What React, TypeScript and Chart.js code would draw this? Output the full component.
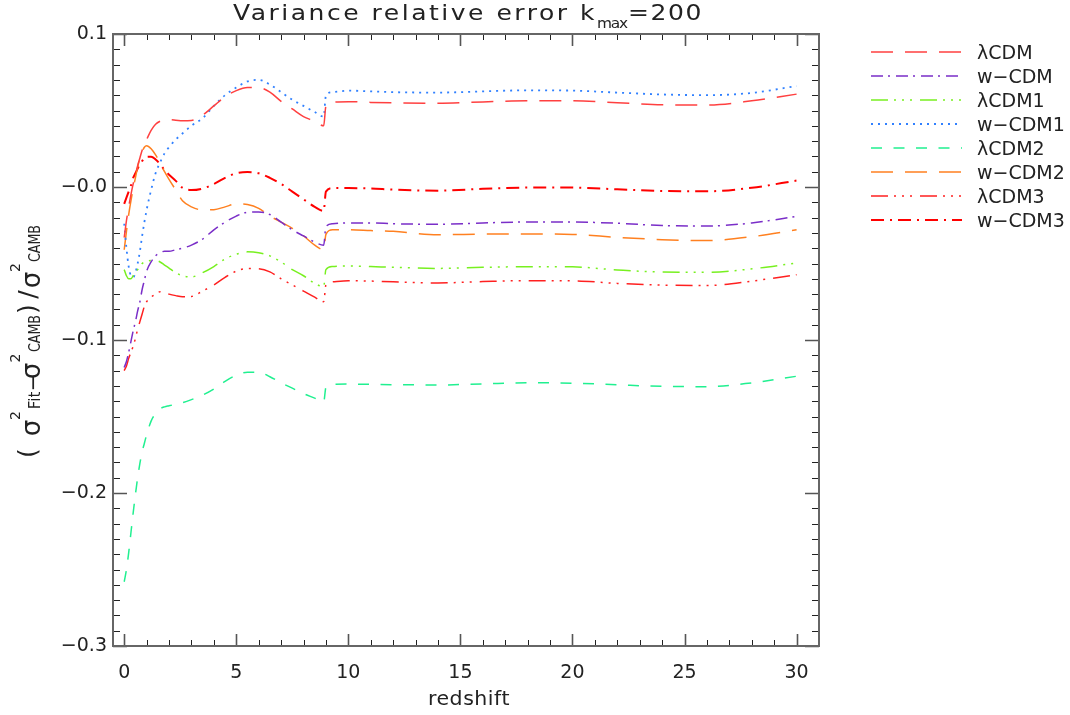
import { useEffect, useRef } from "react";
import { Chart, registerables } from "chart.js";

Chart.register(...registerables);

// ---------------- data ----------------
const redshift = [0, 0.1, 0.2, 0.3, 0.4, 0.5, 0.6, 0.7, 0.8, 0.9, 1.0, 1.2, 1.4, 1.6, 1.8, 2.0, 2.3, 2.6, 3.0, 3.5, 4.0, 4.5, 5.0, 5.5, 6.0, 6.5, 7.0, 7.5, 8.0, 8.5, 8.9, 9.0, 9.3, 10, 11, 12, 14, 16, 18, 20, 22, 24, 26, 28, 30];

const lambdaCDM = [-0.033, -0.022, -0.013, -0.005, 0.002, 0.008, 0.014, 0.019, 0.024, 0.028, 0.031, 0.037, 0.041, 0.043, 0.044, 0.044, 0.0437, 0.0433, 0.0435, 0.047, 0.053, 0.059, 0.063, 0.065, 0.065, 0.062, 0.056, 0.051, 0.046, 0.043, 0.040, 0.053, 0.0555, 0.0558, 0.0553, 0.055, 0.0547, 0.0556, 0.0564, 0.0563, 0.0551, 0.0538, 0.0536, 0.0563, 0.0607];
const wCDM = [-0.118, -0.114, -0.108, -0.101, -0.094, -0.088, -0.081, -0.075, -0.067, -0.061, -0.055, -0.049, -0.045, -0.043, -0.042, -0.042, -0.041, -0.040, -0.038, -0.034, -0.028, -0.023, -0.019, -0.0165, -0.0163, -0.018, -0.023, -0.028, -0.032, -0.036, -0.038, -0.026, -0.024, -0.0235, -0.0235, -0.024, -0.0244, -0.0235, -0.0229, -0.0229, -0.0237, -0.0252, -0.0255, -0.0235, -0.0192];
const lambdaCDM1 = [-0.054, -0.058, -0.060, -0.060, -0.058, -0.056, -0.054, -0.052, -0.050, -0.049, -0.0485, -0.048, -0.048, -0.049, -0.051, -0.053, -0.056, -0.058, -0.0588, -0.056, -0.052, -0.047, -0.044, -0.0424, -0.043, -0.045, -0.049, -0.054, -0.058, -0.063, -0.065, -0.054, -0.052, -0.0516, -0.052, -0.0525, -0.0532, -0.0525, -0.0521, -0.0522, -0.0542, -0.0556, -0.0558, -0.0535, -0.0497];
const wCDM1 = [-0.024, -0.040, -0.052, -0.058, -0.059, -0.056, -0.050, -0.042, -0.032, -0.023, -0.015, -0.002, 0.009, 0.016, 0.022, 0.026, 0.031, 0.035, 0.040, 0.045, 0.053, 0.060, 0.065, 0.069, 0.070, 0.067, 0.062, 0.057, 0.053, 0.049, 0.046, 0.060, 0.062, 0.063, 0.0625, 0.062, 0.0617, 0.0625, 0.0632, 0.063, 0.0617, 0.0605, 0.060, 0.0615, 0.066];
const lambdaCDM2 = [-0.258, -0.250, -0.239, -0.226, -0.213, -0.201, -0.190, -0.1806, -0.173, -0.1675, -0.162, -0.153, -0.148, -0.145, -0.1437, -0.143, -0.142, -0.141, -0.139, -0.136, -0.132, -0.127, -0.123, -0.121, -0.121, -0.124, -0.128, -0.1315, -0.135, -0.138, -0.1405, -0.131, -0.129, -0.1288, -0.129, -0.1292, -0.1294, -0.1287, -0.128, -0.1282, -0.1293, -0.1303, -0.1305, -0.128, -0.1237];
const wCDM2 = [-0.041, -0.029, -0.018, -0.009, -0.001, 0.006, 0.013, 0.019, 0.023, 0.026, 0.027, 0.025, 0.021, 0.016, 0.010, 0.005, -0.002, -0.009, -0.013, -0.015, -0.0148, -0.013, -0.011, -0.0115, -0.014, -0.019, -0.023, -0.027, -0.032, -0.038, -0.041, -0.031, -0.028, -0.028, -0.0285, -0.029, -0.0312, -0.0308, -0.0307, -0.031, -0.0329, -0.0344, -0.035, -0.0325, -0.028];
const lambdaCDM3 = [-0.120, -0.117, -0.112, -0.108, -0.104, -0.099, -0.093, -0.088, -0.083, -0.078, -0.075, -0.072, -0.070, -0.0685, -0.069, -0.070, -0.071, -0.0717, -0.0715, -0.068, -0.064, -0.059, -0.055, -0.0533, -0.0535, -0.0555, -0.060, -0.064, -0.068, -0.072, -0.075, -0.064, -0.062, -0.0612, -0.0615, -0.062, -0.0627, -0.0618, -0.0612, -0.0613, -0.063, -0.0641, -0.0644, -0.0615, -0.0573];
const wCDM3 = [-0.011, -0.007, -0.003, 0.001, 0.006, 0.009, 0.012, 0.015, 0.017, 0.019, 0.0197, 0.0198, 0.018, 0.015, 0.011, 0.008, 0.004, -0.0005, -0.002, -0.001, 0.002, 0.006, 0.009, 0.0098, 0.009, 0.006, 0.002, -0.003, -0.008, -0.013, -0.0157, -0.003, -0.0007, -0.0007, -0.001, -0.0017, -0.0024, -0.0012, -0.0004, -0.0004, -0.0015, -0.0026, -0.0028, -0.0005, 0.0042];

const seriesLabels = ["λCDM", "w−CDM", "λCDM1", "w−CDM1", "λCDM2", "w−CDM2", "λCDM3", "w−CDM3"];

const xTickValues = [0, 5, 10, 15, 20, 25, 30];
const xTickLabels = ["0", "5", "10", "15", "20", "25", "30"];
const yTickValues = [-0.3, -0.2, -0.1, 0, 0.1];
const yTickLabels = ["−0.3", "−0.2", "−0.1", "−0.0", "0.1"];

const titleMain = "Variance relative error k";
const titleSub = "max";
const titleTail = "=200";
const xAxisTitle = "redshift";

// ---------------- styles ----------------
const FONT = "'DejaVu Sans', sans-serif";
const TEXT = "#222";
const styles = [
  { color: "#ff4040", dash: [22, 12], width: 1.5 },
  { color: "#7a2ec8", dash: [12, 5, 2, 6], width: 1.5 },
  { color: "#78f020", dash: [17, 6, 2, 6, 2, 6, 2, 8], width: 1.5 },
  { color: "#3080ff", dash: [2, 5], width: 1.8 },
  { color: "#20f090", dash: [11, 11.5], width: 1.5 },
  { color: "#ff8020", dash: [22, 12], width: 1.5 },
  { color: "#ff2020", dash: [17, 6, 2, 6, 2, 6, 2, 8], width: 1.5 },
  { color: "#ff0000", dash: [13, 6, 2, 6], width: 2 },
];

const allSeries = [lambdaCDM, wCDM, lambdaCDM1, wCDM1, lambdaCDM2, wCDM2, lambdaCDM3, wCDM3];

// text stretched slightly and letter-spaced to span x0..x1 (Hershey-like look)
function drawSpaced(ctx: any, text: string, font: string, x0: number, x1: number, y: number, stretch = 1.22) {
  ctx.font = font;
  ctx.letterSpacing = "0px";
  const w = ctx.measureText(text).width;
  const ls = ((x1 - x0) / stretch - w) / text.length;
  ctx.save();
  ctx.letterSpacing = `${ls}px`;
  ctx.textAlign = "left";
  ctx.translate(x0, y);
  ctx.scale(stretch, 1);
  ctx.fillText(text, 0, 0);
  ctx.restore();
  ctx.letterSpacing = "0px";
}

// piece of the rotated y title, centred between screen y0 and y1 (text runs upward)
function drawRotPiece(ctx: any, text: string, font: string, y0: number, y1: number, v: number, fit = false) {
  ctx.font = font;
  const w = ctx.measureText(text).width;
  const c = (y0 + y1) / 2;
  ctx.save();
  ctx.translate(-c, v);
  if (fit) ctx.scale((y0 - y1) / w, 1);
  ctx.textAlign = "center";
  ctx.fillText(text, 0, 0);
  ctx.restore();
}

const framePlugin = {
  id: "frameTicks",
  afterDraw(chart: any) {
    const { ctx, chartArea, scales } = chart;
    const { left, right, top, bottom } = chartArea;
    const xs = scales.x;
    const ys = scales.y;
    ctx.save();
    for (let v = 0; v <= 31; v++) {
      const px = Math.round(xs.getPixelForValue(v)) + 0.5;
      const major = v % 5 === 0;
      const len = major ? 12 : 6;
      ctx.strokeStyle = major ? "#555" : "#222";
      ctx.lineWidth = major ? 1.6 : 1;
      ctx.beginPath();
      ctx.moveTo(px, bottom);
      ctx.lineTo(px, bottom - len);
      ctx.moveTo(px, top);
      ctx.lineTo(px, top + len);
      ctx.stroke();
    }
    for (let i = -30; i <= 10; i++) {
      const py = Math.round(ys.getPixelForValue(i / 100)) + 0.5;
      const major = i % 10 === 0;
      const len = major ? 14 : 7;
      ctx.strokeStyle = major ? "#555" : "#222";
      ctx.lineWidth = major ? 1.6 : 1;
      ctx.beginPath();
      ctx.moveTo(left, py);
      ctx.lineTo(left + len, py);
      ctx.moveTo(right, py);
      ctx.lineTo(right - len, py);
      ctx.stroke();
    }
    ctx.strokeStyle = "#666";
    ctx.lineWidth = 2;
    ctx.strokeRect(left, top, right - left, bottom - top);

    // legend
    chart.data.datasets.forEach((ds: any, i: number) => {
      const y = 52 + i * 24;
      ctx.strokeStyle = ds.borderColor;
      ctx.lineWidth = ds.borderWidth;
      ctx.setLineDash(ds.borderDash);
      ctx.beginPath();
      ctx.moveTo(871, y);
      ctx.lineTo(962, y);
      ctx.stroke();
      ctx.setLineDash([]);
      ctx.fillStyle = TEXT;
      ctx.font = `19px ${FONT}`;
      ctx.textAlign = "left";
      ctx.textBaseline = "alphabetic";
      ctx.fillText(ds.label, 977, y + 7);
    });

    // title
    ctx.fillStyle = TEXT;
    ctx.textBaseline = "alphabetic";
    drawSpaced(ctx, titleMain, `20.5px ${FONT}`, 233, 597, 20);
    drawSpaced(ctx, titleSub, `14px ${FONT}`, 597, 627, 28, 1.1);
    drawSpaced(ctx, titleTail, `20.5px ${FONT}`, 628, 703, 20);

    // x axis title
    drawSpaced(ctx, xAxisTitle, `19px ${FONT}`, 428, 510, 705, 1.08);

    // y axis title (rotated, reading upward)
    const paren = `25px ${FONT}`;
    const big = `21px ${FONT}`;
    const sig = `26px ${FONT}`;
    const sup = `14px ${FONT}`;
    const sub = `15px ${FONT}`;
    ctx.save();
    ctx.translate(40, 0);
    ctx.rotate(-Math.PI / 2);
    drawRotPiece(ctx, "(", paren, 462, 444, -4);
    drawRotPiece(ctx, "σ", sig, 437, 419, 0);
    drawRotPiece(ctx, "2", sup, 422, 409, -20);
    drawRotPiece(ctx, "Fit", sub, 409, 392, 0);
    drawRotPiece(ctx, "−", big, 391, 374, 0);
    drawRotPiece(ctx, "σ", sig, 378, 364, 0);
    drawRotPiece(ctx, "2", sup, 364, 352, -20);
    drawRotPiece(ctx, "CAMB", sub, 352, 315, 0, true);
    drawRotPiece(ctx, ")", paren, 316, 302, -4);
    drawRotPiece(ctx, "/", paren, 302, 287, -4);
    drawRotPiece(ctx, "σ", sig, 287, 273, 0);
    drawRotPiece(ctx, "2", sup, 273, 262, -20);
    drawRotPiece(ctx, "CAMB", sub, 262, 225, 0, true);
    ctx.restore();
    ctx.restore();
  },
};

export default function App() {
  const canvasRef = useRef<HTMLCanvasElement | null>(null);

  useEffect(() => {
    const canvas = canvasRef.current;
    if (!canvas) return;
    const datasets = allSeries.map((vals, i) => ({
      label: seriesLabels[i],
      data: redshift.map((z, j) => ({ x: z, y: vals[j] })),
      borderColor: styles[i].color,
      backgroundColor: styles[i].color,
      borderDash: styles[i].dash,
      borderWidth: styles[i].width,
      pointRadius: 0,
      fill: false,
      cubicInterpolationMode: "monotone" as const,
    }));
    const tickFont = { family: FONT, size: 19 };
    const chart = new Chart(canvas, {
      type: "line",
      data: { datasets },
      plugins: [framePlugin],
      options: {
        animation: false,
        responsive: false,
        maintainAspectRatio: false,
        devicePixelRatio: 1,
        layout: { padding: { top: 34, right: 251, left: 0, bottom: 0 } },
        plugins: {
          legend: { display: false },
          title: { display: false },
          tooltip: { enabled: false },
        },
        scales: {
          x: {
            type: "linear",
            min: -0.5,
            max: 31,
            grid: { display: false, drawTicks: false },
            border: { display: false },
            afterBuildTicks: (scale: any) => {
              scale.ticks = xTickValues.map((value) => ({ value }));
            },
            afterFit: (scale: any) => {
              scale.height = 69;
            },
            ticks: {
              autoSkip: false,
              maxRotation: 0,
              padding: 16,
              color: TEXT,
              font: tickFont,
              callback: (_v: any, i: number) => xTickLabels[i],
            },
          },
          y: {
            type: "linear",
            min: -0.3,
            max: 0.1,
            grid: { display: false, drawTicks: false },
            border: { display: false },
            afterBuildTicks: (scale: any) => {
              scale.ticks = yTickValues.map((value) => ({ value }));
            },
            afterFit: (scale: any) => {
              scale.width = 113;
            },
            ticks: {
              autoSkip: false,
              padding: 6,
              color: TEXT,
              font: tickFont,
              callback: (_v: any, i: number) => yTickLabels[i],
            },
          },
        },
      },
    });
    return () => chart.destroy();
  }, []);

  return (
    <div style={{ position: "absolute", left: 0, top: 0, width: 1070, height: 715, background: "#fff" }}>
      <canvas ref={canvasRef} width={1070} height={715} style={{ width: 1070, height: 715 }} />
    </div>
  );
}
